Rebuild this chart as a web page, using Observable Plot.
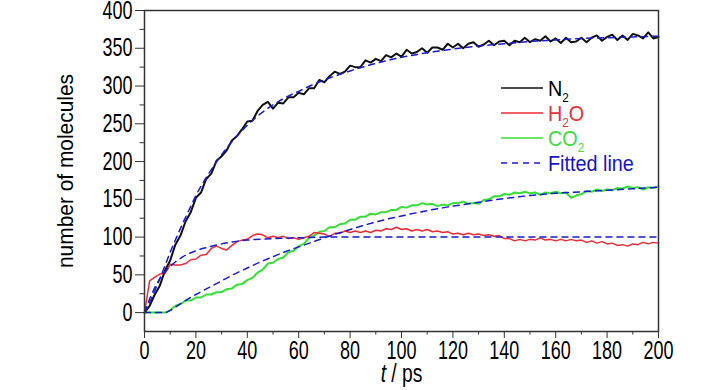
<!DOCTYPE html>
<html><head><meta charset="utf-8">
<script src="https://cdn.jsdelivr.net/npm/d3@7"></script>
<script src="https://cdn.jsdelivr.net/npm/@observablehq/plot@0.6"></script>
<style>body{margin:0;background:#fff}</style>
</head><body><div id="chart"></div>
<script>
// time grid (ps), every 2 ps
const time = d3.range(0, 201, 2);
// N2 molecule count
const n2 = [
 0,9,24,36,56,69,90,102,121,133,
 152,159,177,184,201,207,215,228,234,243,
 253,254,267,275,279,270,278,277,285,285,
 291,289,297,297,308,305,313,319,316,319,
 327,325,325,334,331,336,333,341,338,343,
 339,348,343,345,350,344,351,351,348,356,
 351,356,350,356,358,352,355,360,354,359,
 360,354,360,358,364,358,362,360,366,359,
 363,357,364,358,359,364,358,364,367,360,
 365,368,361,367,361,369,367,363,371,363,
 365];
const h2o = [
 0,42,47,51,52,64,63,63,65,70,
 71,76,77,85,88,85,83,89,94,96,
 97,102,104,103,99,101,99,101,98,99,
 97,99,101,106,105,104,101,105,105,108,
 106,108,106,108,106,109,108,111,110,113,
 110,111,108,110,108,110,107,108,106,107,
 104,105,103,105,103,104,102,103,101,102,
 98,98,95,97,95,97,96,99,96,97,
 95,97,95,97,95,96,93,95,92,94,
 91,92,89,90,88,91,90,93,91,93,
 92];
const co2 = [
 0,0,0,0,0,3,9,11,16,16,
 20,20,24,24,27,27,31,32,37,38,
 43,46,53,57,65,66,71,73,80,82,
 88,91,99,102,107,108,113,113,117,118,
 123,123,127,127,131,130,133,133,136,136,
 140,139,142,142,145,143,144,141,143,142,
 145,145,147,144,145,144,149,150,154,154,
 157,156,159,158,160,158,159,156,159,158,
 160,158,159,152,155,157,161,160,163,161,
 163,162,165,164,167,165,166,163,166,165,
 167];
// fitted curves
const fitN2T  = [0,2.5,5,7.5,10,12.5,15,17.5,20,25,30,35,40,45,50,55,60,65,70,80,90,100,110,120,130,140,150,160,170,180,190,200];
const fitN2   = [0,17,37,58,80,100,119,137,155,184,209,230,248,263,275,285,293,301,308,320,330,338,344,349,353,356,359,361,363,364,365,366];
const fitH2OT = [0,2,4,6,8,10,12,15,20,25,30,35,40,50,60,70,80,100,120,140,160,180,200];
const fitH2O  = [0,18,33,45,54,61,67,74,82,87,91,94,96,98,99,100,100,100,100,100,100,100,100];
const fitCO2T = [0,8,10,15,20,25,30,35,40,45,50,55,60,65,70,80,90,100,110,120,130,140,150,160,170,180,190,200];
const fitCO2  = [0,0,3,14,24,33,42,51,59,67,74,81,87,93,99,110,120,128,135,141,146,151,155,158,160,162,164,166];
// ticks
const xMajor = [0,20,40,60,80,100,120,140,160,180,200];
const xMinor = [10,30,50,70,90,110,130,150,170,190];
const yMajor = [0,50,100,150,200,250,300,350,400];
const yMinor = [25,75,125,175,225,275,325,375];
// legend
const legendLabels = ["N_2","H_2O","CO_2","Fitted line"];
const legendColors = ["#111111","#ee2a35","#35e035","#1a1ad0"];
const legendTextColors = ["#000000","#e8303a","#3ddc3d","#1515c8"];
const legendDash = [null,null,null,"6,5"];

const FONT = "'Liberation Sans',Arial,sans-serif";
const rows = (xs, ys) => xs.map((x, i) => ({x, y: ys[i]}));

const svg = Plot.plot({
  width: 728, height: 390,
  marginLeft: 144, marginRight: 70, marginTop: 10, marginBottom: 59,
  x: {domain: [0, 200]},
  y: {domain: [-25, 400]},
  style: {fontFamily: FONT, fontSize: "25px", color: "#000", background: "#fff"},
  marks: [
    Plot.axisY(yMajor, {tickSize: 9, tickPadding: 3, label: null, stroke: "#333", className: "yaxis"}),
    Plot.axisY(yMinor, {tickSize: 4.5, text: null, label: null, stroke: "#333"}),
    Plot.axisX(xMajor, {tickSize: 7, tickPadding: 3, label: null, stroke: "#333", className: "xaxis"}),
    Plot.axisX(xMinor, {tickSize: 3.5, text: null, label: null, stroke: "#333"}),
    Plot.line(rows(time, co2), {x: "x", y: "y", stroke: legendColors[2], strokeWidth: 2}),
    Plot.line(rows(time, h2o), {x: "x", y: "y", stroke: legendColors[1], strokeWidth: 1.5}),
    Plot.line(rows(time, n2), {x: "x", y: "y", stroke: legendColors[0], strokeWidth: 2}),
    Plot.line(rows(fitN2T, fitN2), {x: "x", y: "y", stroke: legendColors[3], strokeWidth: 1.5, strokeDasharray: "6,5", curve: "monotone-x"}),
    Plot.line(rows(fitH2OT, fitH2O), {x: "x", y: "y", stroke: legendColors[3], strokeWidth: 1.5, strokeDasharray: "6,5", curve: "monotone-x"}),
    Plot.line(rows(fitCO2T, fitCO2), {x: "x", y: "y", stroke: legendColors[3], strokeWidth: 1.5, strokeDasharray: "6,5", curve: "monotone-x"}),
    Plot.frame({stroke: "#333", strokeWidth: 1.5}),
    Plot.text(["number of molecules"], {frameAnchor: "left", dx: -79, rotate: -90, textAnchor: "middle", lineAnchor: "middle", fontSize: 22, fill: "#000", className: "ytitle"}),
    Plot.text(["t / ps"], {frameAnchor: "bottom", dy: 42, textAnchor: "middle", lineAnchor: "middle", fontSize: 25, fill: "#000", className: "xtitle"})
  ]
});

// italic t in x title
d3.select(svg).selectAll(".xtitle text").each(function() {
  const el = d3.select(this);
  el.text(null);
  el.append("tspan").attr("font-style", "italic").text("t");
  el.append("tspan").text(" / ps");
});

// legend
const lg = d3.select(svg).append("g").attr("class", "legend")
  .attr("font-family", FONT).attr("font-size", 22).attr("text-anchor", "start");
legendLabels.forEach((lab, i) => {
  const y = 88 + i * 25;
  lg.append("line").attr("x1", 501).attr("x2", 543).attr("y1", y).attr("y2", y)
    .attr("stroke", legendColors[i]).attr("stroke-width", 1.5)
    .attr("stroke-dasharray", legendDash[i]);
  const tx = lg.append("text").attr("x", 548).attr("y", y + 8).attr("fill", legendTextColors[i]);
  const parts = lab.split("_");
  tx.append("tspan").text(parts[0]);
  if (parts.length > 1) {
    tx.append("tspan").attr("dy", 6).attr("font-size", 13).text(parts[1][0]);
    if (parts[1].length > 1) tx.append("tspan").attr("dy", -6).text(parts[1].slice(1));
  }
});

document.getElementById("chart").appendChild(svg);

// condensed look of the original lettering
const squeeze = (sel, k) => d3.select(svg).selectAll(sel).each(function() {
  const L = this.getComputedTextLength();
  if (L > 0) {
    this.setAttribute("textLength", (L * k).toFixed(2));
    this.setAttribute("lengthAdjust", "spacingAndGlyphs");
  }
});
squeeze(".xaxis text", 0.72);
squeeze(".yaxis text", 0.72);
squeeze(".xtitle text", 0.77);
squeeze(".ytitle text", 0.95);
squeeze(".legend text", 0.9);
</script>
</body></html>
